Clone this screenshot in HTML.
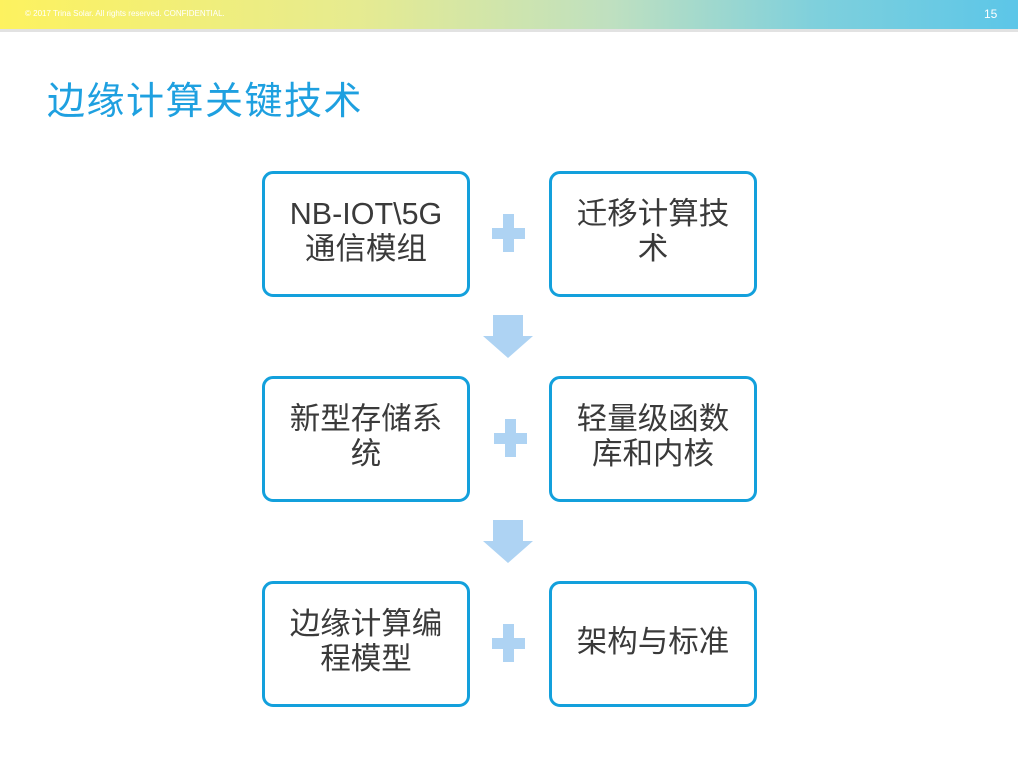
<!DOCTYPE html>
<html><head><meta charset="utf-8"><style>
body{margin:0;width:1018px;height:765px;background:#fff;position:relative;overflow:hidden;font-family:"Liberation Sans","Noto Sans CJK SC",sans-serif}
.hdr{position:absolute;left:0;top:0;width:1018px;height:29px;background:linear-gradient(90deg,#fdf25f 0%,#e6eb90 35%,#bfe0c0 60%,#7fd0dc 80%,#5cc6e8 100%)}
.hl{position:absolute;left:0;top:29px;width:1018px;height:3px;background:#e2e2e2}
.copy{position:absolute;left:25px;top:9px;font-size:8px;color:#fff}
.pn{position:absolute;left:984px;top:7px;font-size:12px;color:#fff}
.title{position:absolute;left:47px;top:78px;font-size:38px;line-height:48px;color:#1ea0e0;letter-spacing:1.5px}
.box{position:absolute;width:202px;height:120px;border:3px solid #13a0dc;border-radius:11px;display:flex;align-items:center;justify-content:center;text-align:center;font-size:30.5px;line-height:35px;color:#3a3a3a;box-sizing:content-box;white-space:nowrap;padding-top:0}
.box span{position:relative;top:-2px}
.ph{position:absolute;background:#aed3f3}
</style></head><body>
<div class="hdr"></div><div class="hl"></div>
<div class="copy">© 2017 Trina Solar. All rights reserved. CONFIDENTIAL.</div>
<div class="pn">15</div>
<div class="title">边缘计算关键技术</div>

<div class="box" style="left:262px;top:171px"><span>NB-IOT\5G<br>通信模组</span></div>
<div class="box" style="left:549px;top:171px"><span>迁移计算技<br>术</span></div>
<div class="box" style="left:262px;top:376px"><span>新型存储系<br>统</span></div>
<div class="box" style="left:549px;top:376px"><span>轻量级函数<br>库和内核</span></div>
<div class="box" style="left:262px;top:581px"><span>边缘计算编<br>程模型</span></div>
<div class="box" style="left:549px;top:581px"><span>架构与标准</span></div>

<div class="ph" style="left:492px;top:228px;width:33px;height:11px"></div>
<div class="ph" style="left:503px;top:214px;width:11px;height:38px"></div>
<div class="ph" style="left:494px;top:433px;width:33px;height:11px"></div>
<div class="ph" style="left:505px;top:419px;width:11px;height:38px"></div>
<div class="ph" style="left:492px;top:638px;width:33px;height:11px"></div>
<div class="ph" style="left:503px;top:624px;width:11px;height:38px"></div>

<svg style="position:absolute;left:0;top:0" width="1018" height="765">
<polygon points="493,315 523,315 523,336 533,336 508,358 483,336 493,336" fill="#aed3f3"/>
<polygon points="493,520 523,520 523,541 533,541 508,563 483,541 493,541" fill="#aed3f3"/>
</svg>
</body></html>
